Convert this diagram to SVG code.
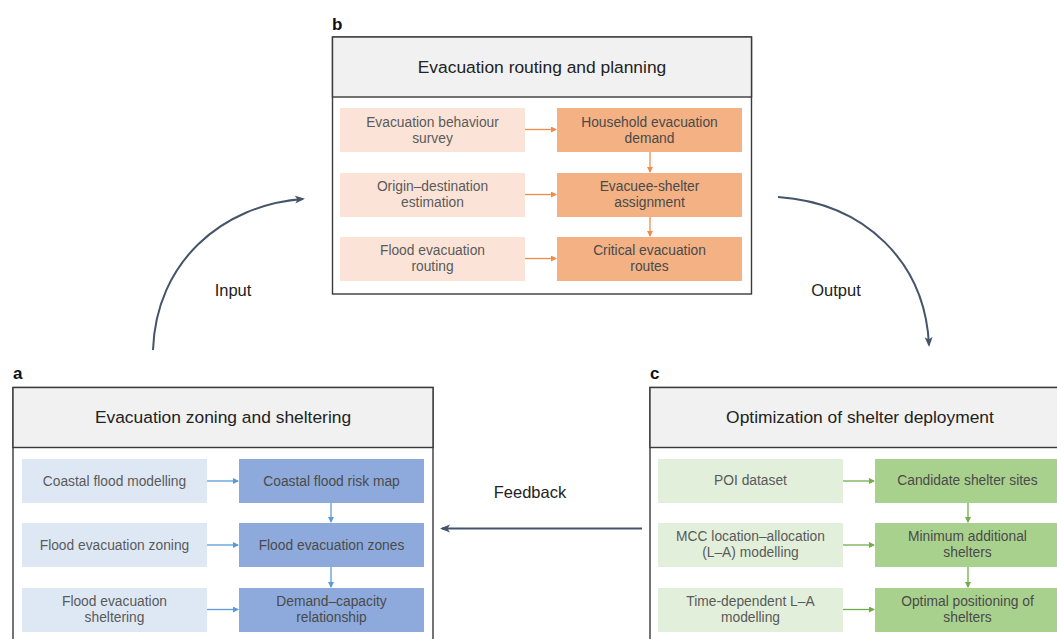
<svg xmlns="http://www.w3.org/2000/svg" width="1057" height="639" viewBox="0 0 1057 639">
<defs>
<style>
.panel{fill:#fff;stroke:#3a3a3a;stroke-width:1.4}
.head{fill:#f1f1f1;stroke:#3a3a3a;stroke-width:1.4}
.title{font-family:"Liberation Sans",Arial,sans-serif;font-size:17.4px;fill:#222;text-anchor:middle}
.lbl{font-family:"Liberation Sans",Arial,sans-serif;font-size:17px;font-weight:900;fill:#111}
.t{font-family:"Liberation Sans",Arial,sans-serif;font-size:13.8px;text-anchor:middle;fill:#5a5a5a}
.td{font-family:"Liberation Sans",Arial,sans-serif;font-size:13.8px;text-anchor:middle;fill:#4a4a4a}
.big{font-family:"Liberation Sans",Arial,sans-serif;font-size:16.5px;text-anchor:middle;fill:#222}
.bL{fill:#fbe4d7}.bR{fill:#f3b184}
.aL{fill:#dee8f5}.aR{fill:#8eaadc}
.cL{fill:#e2efda}.cR{fill:#a9d18e}
.oa{stroke:#f08b4e;stroke-width:1.3;fill:none;marker-end:url(#mo)}
.ba{stroke:#5b9bd5;stroke-width:1.3;fill:none;marker-end:url(#mb)}
.ga{stroke:#71ad47;stroke-width:1.3;fill:none;marker-end:url(#mg)}
.flow{stroke:#44546a;stroke-width:2;fill:none;marker-end:url(#md)}
</style>
<marker id="mo" markerWidth="6" markerHeight="6" refX="5" refY="3" orient="auto" markerUnits="userSpaceOnUse"><path d="M0,0 L6,3 L0,6 z" fill="#f08b4e"/></marker>
<marker id="mb" markerWidth="6" markerHeight="6" refX="5" refY="3" orient="auto" markerUnits="userSpaceOnUse"><path d="M0,0 L6,3 L0,6 z" fill="#5b9bd5"/></marker>
<marker id="mg" markerWidth="6" markerHeight="6" refX="5" refY="3" orient="auto" markerUnits="userSpaceOnUse"><path d="M0,0 L6,3 L0,6 z" fill="#71ad47"/></marker>
<marker id="md" markerWidth="10" markerHeight="10" refX="8" refY="5" orient="auto" markerUnits="userSpaceOnUse"><path d="M0,1 L10,5 L0,9 L2.5,5 z" fill="#44546a"/></marker>
</defs>
<rect width="1057" height="639" fill="#fff"/>

<!-- Panel b -->
<g id="panel-b">
<text class="lbl" x="332" y="30">b</text>
<rect class="panel" x="332.5" y="37" width="419" height="257"/>
<rect class="head" x="332.5" y="37" width="419" height="60"/>
<text class="title" x="542" y="73">Evacuation routing and planning</text>
</g>
<g id="b1"><rect class="bL" x="340" y="108" width="185" height="44"/><text class="t" x="432.5" y="127">Evacuation behaviour</text><text class="t" x="432.5" y="143">survey</text></g>
<g id="b2"><rect class="bL" x="340" y="173" width="185" height="44"/><text class="t" x="432.5" y="191">Origin–destination</text><text class="t" x="432.5" y="207">estimation</text></g>
<g id="b3"><rect class="bL" x="340" y="237" width="185" height="44"/><text class="t" x="432.5" y="255">Flood evacuation</text><text class="t" x="432.5" y="271">routing</text></g>
<g id="b4"><rect class="bR" x="557" y="108" width="185" height="44"/><text class="td" x="649.5" y="127">Household evacuation</text><text class="td" x="649.5" y="143">demand</text></g>
<g id="b5"><rect class="bR" x="557" y="173" width="185" height="44"/><text class="td" x="649.5" y="191">Evacuee-shelter</text><text class="td" x="649.5" y="207">assignment</text></g>
<g id="b6"><rect class="bR" x="557" y="237" width="185" height="44"/><text class="td" x="649.5" y="255">Critical evacuation</text><text class="td" x="649.5" y="271">routes</text></g>

<!-- Panel a -->
<g id="panel-a">
<text class="lbl" x="13" y="379">a</text>
<rect class="panel" x="13" y="387.5" width="420" height="270"/>
<rect class="head" x="13" y="387.5" width="420" height="60"/>
<text class="title" x="223" y="423">Evacuation zoning and sheltering</text>
</g>
<g id="a1"><rect class="aL" x="22" y="459" width="185" height="44"/><text class="t" x="114.5" y="486">Coastal flood modelling</text></g>
<g id="a2"><rect class="aL" x="22" y="523" width="185" height="44"/><text class="t" x="114.5" y="550">Flood evacuation zoning</text></g>
<g id="a3"><rect class="aL" x="22" y="588" width="185" height="44"/><text class="t" x="114.5" y="606">Flood evacuation</text><text class="t" x="114.5" y="622">sheltering</text></g>
<g id="a4"><rect class="aR" x="239" y="459" width="185" height="44"/><text class="td" x="331.5" y="486">Coastal flood risk map</text></g>
<g id="a5"><rect class="aR" x="239" y="523" width="185" height="44"/><text class="td" x="331.5" y="550">Flood evacuation zones</text></g>
<g id="a6"><rect class="aR" x="239" y="588" width="185" height="44"/><text class="td" x="331.5" y="606">Demand–capacity</text><text class="td" x="331.5" y="622">relationship</text></g>

<!-- Panel c -->
<g id="panel-c">
<text class="lbl" x="650" y="379">c</text>
<rect class="panel" x="650" y="387.5" width="420" height="270"/>
<rect class="head" x="650" y="387.5" width="420" height="60"/>
<text class="title" x="860" y="423">Optimization of shelter deployment</text>
</g>
<g id="c1"><rect class="cL" x="658" y="459" width="185" height="44"/><text class="t" x="750.5" y="485">POI dataset</text></g>
<g id="c2"><rect class="cL" x="658" y="523" width="185" height="44"/><text class="t" x="750.5" y="541">MCC location–allocation</text><text class="t" x="750.5" y="557">(L–A) modelling</text></g>
<g id="c3"><rect class="cL" x="658" y="588" width="185" height="44"/><text class="t" x="750.5" y="606">Time-dependent L–A</text><text class="t" x="750.5" y="622">modelling</text></g>
<g id="c4"><rect class="cR" x="875" y="459" width="185" height="44"/><text class="td" x="967.5" y="485">Candidate shelter sites</text></g>
<g id="c5"><rect class="cR" x="875" y="523" width="185" height="44"/><text class="td" x="967.5" y="541">Minimum additional</text><text class="td" x="967.5" y="557">shelters</text></g>
<g id="c6"><rect class="cR" x="875" y="588" width="185" height="44"/><text class="td" x="967.5" y="606">Optimal positioning of</text><text class="td" x="967.5" y="622">shelters</text></g>

<g id="connectors">
<path class="oa" d="M525,129.5 H556"/>
<path class="oa" d="M525,194.5 H556"/>
<path class="oa" d="M525,258.5 H556"/>
<path class="oa" d="M650,152 V172"/>
<path class="oa" d="M650,217 V236"/>
<path class="ba" d="M207,481 H238"/>
<path class="ba" d="M207,545 H238"/>
<path class="ba" d="M207,609.5 H238"/>
<path class="ba" d="M331,503 V522"/>
<path class="ba" d="M331,567 V587"/>
<path class="ga" d="M843,481 H874"/>
<path class="ga" d="M843,545 H874"/>
<path class="ga" d="M843,609.5 H874"/>
<path class="ga" d="M968,503 V522"/>
<path class="ga" d="M968,567 V587"/>
<path class="flow" d="M153,350 C156,262 222,205 303,199"/>
<path class="flow" d="M778,197 C865,203 925,262 929,345"/>
<path class="flow" d="M642,528.5 H442"/>
<text class="big" x="233" y="296">Input</text>
<text class="big" x="836" y="296">Output</text>
<text class="big" x="530" y="498">Feedback</text>
</g>
</svg>
